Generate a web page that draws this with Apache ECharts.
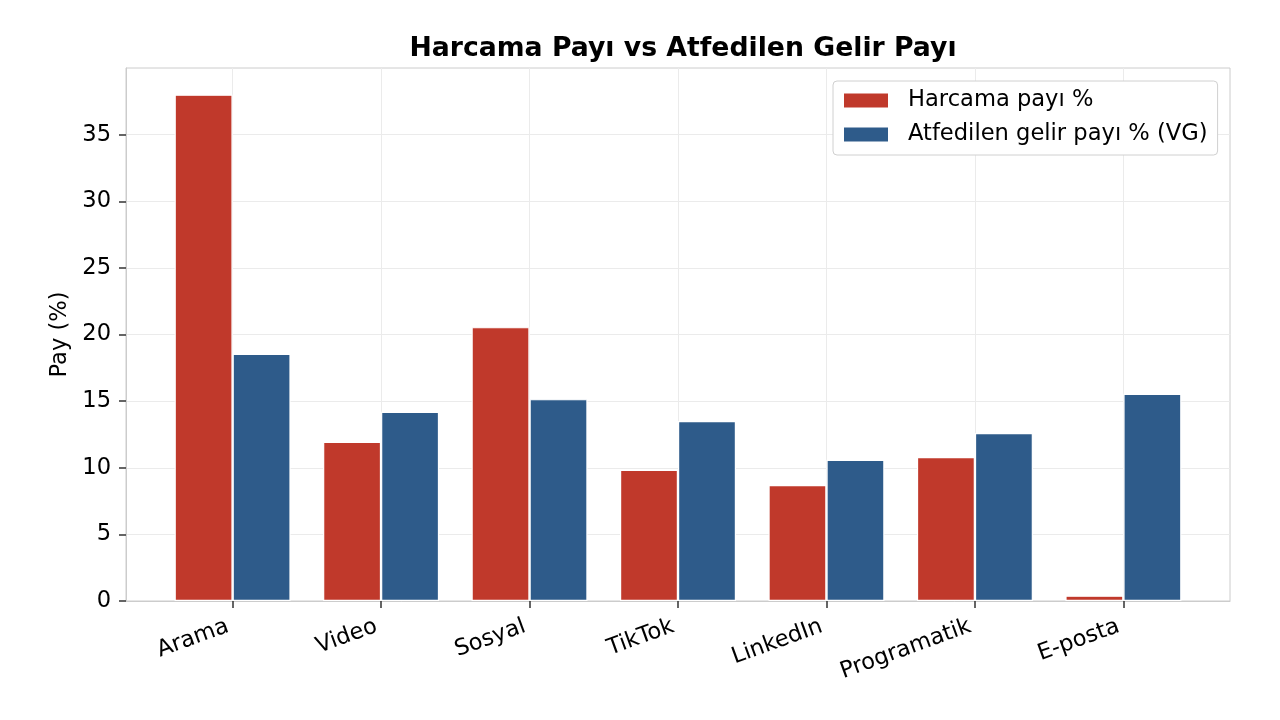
<!DOCTYPE html>
<html>
<head>
<meta charset="utf-8">
<script src="https://cdn.jsdelivr.net/npm/echarts@6/dist/echarts.min.js"></script>
<style>html,body{margin:0;padding:0;background:#fff}#c{width:1280px;height:720px}</style>
</head>
<body>
<div id="c"></div>
<script>
const categories = ['Arama', 'Video', 'Sosyal', 'TikTok', 'LinkedIn', 'Programatik', 'E-posta'];
const spendShare = [38.0, 11.95, 20.55, 9.85, 8.7, 10.8, 0.4];
const revenueShare = [18.55, 14.2, 15.15, 13.5, 10.6, 12.6, 15.55];
const seriesNames = ['Harcama payı %', 'Atfedilen gelir payı % (VG)'];
const yTicks = [0, 5, 10, 15, 20, 25, 30, 35];

const idx = categories.map((_, i) => i);
const font = 'DejaVu Sans';
const fs = 22.6;
const chart = echarts.init(document.getElementById('c'), null, {renderer: 'canvas'});
chart.setOption({
  animation: false,
  backgroundColor: '#ffffff',
  title: {
    text: 'Harcama Payı vs Atfedilen Gelir Payı',
    left: 678, textAlign: 'center', top: 31,
    textStyle: {fontFamily: font, fontSize: 26.7, fontWeight: 'bold', color: '#000'}
  },
  legend: {
    orient: 'vertical', left: 833, top: 81,
    data: seriesNames,
    itemWidth: 46, itemHeight: 16, itemGap: 11,
    padding: [8, 10, 9, 9],
    backgroundColor: '#fff', borderColor: '#d0d0d0', borderWidth: 1, borderRadius: 4,
    textStyle: {fontFamily: font, fontSize: fs, color: '#000', padding: [0, 0, 0, 14]},
    icon: 'rect'
  },
  grid: {left: 126, right: 50, top: 68, bottom: 119, show: true, borderColor: '#cccccc', borderWidth: 1, backgroundColor: 'transparent'},
  xAxis: {
    type: 'value', min: -0.718, max: 6.718,
    axisLine: {show: true, onZero: false, lineStyle: {color: '#cccccc'}},
    axisTick: {show: true, customValues: idx, length: 7, lineStyle: {color: '#333', width: 1.5}},
    axisLabel: {
      customValues: idx, rotate: 20, margin: 23, padding: [0, 5, 0, 0],
      fontFamily: font, fontSize: fs, color: '#000',
      formatter: v => categories[Math.round(v)]
    },
    splitLine: {show: true, customValues: idx, lineStyle: {color: '#ebebeb', width: 1}}
  },
  yAxis: {
    type: 'value', min: 0, max: 40, interval: 5,
    name: 'Pay (%)', nameLocation: 'middle', nameGap: 52,
    nameTextStyle: {fontFamily: font, fontSize: fs, color: '#000'},
    axisLine: {show: true, onZero: false, lineStyle: {color: '#cccccc'}},
    axisTick: {show: true, customValues: yTicks, length: 7, lineStyle: {color: '#333', width: 1.5}},
    axisLabel: {customValues: yTicks, fontFamily: font, fontSize: fs, color: '#000', margin: 15},
    splitLine: {show: true, lineStyle: {color: '#ebebeb', width: 1}}
  },
  series: [
    {
      name: seriesNames[0], type: 'bar', z: 2,
      data: spendShare.map((v, i) => [i, v]),
      barWidth: 58, barGap: '0%',
      itemStyle: {color: '#c0392b', borderColor: '#ffffff', borderWidth: 1.2}
    },
    {
      name: seriesNames[1], type: 'bar', z: 2,
      data: revenueShare.map((v, i) => [i, v]),
      barWidth: 58, barGap: '0%',
      itemStyle: {color: '#2e5b8a', borderColor: '#ffffff', borderWidth: 1.2}
    }
  ]
});
</script>
</body>
</html>
